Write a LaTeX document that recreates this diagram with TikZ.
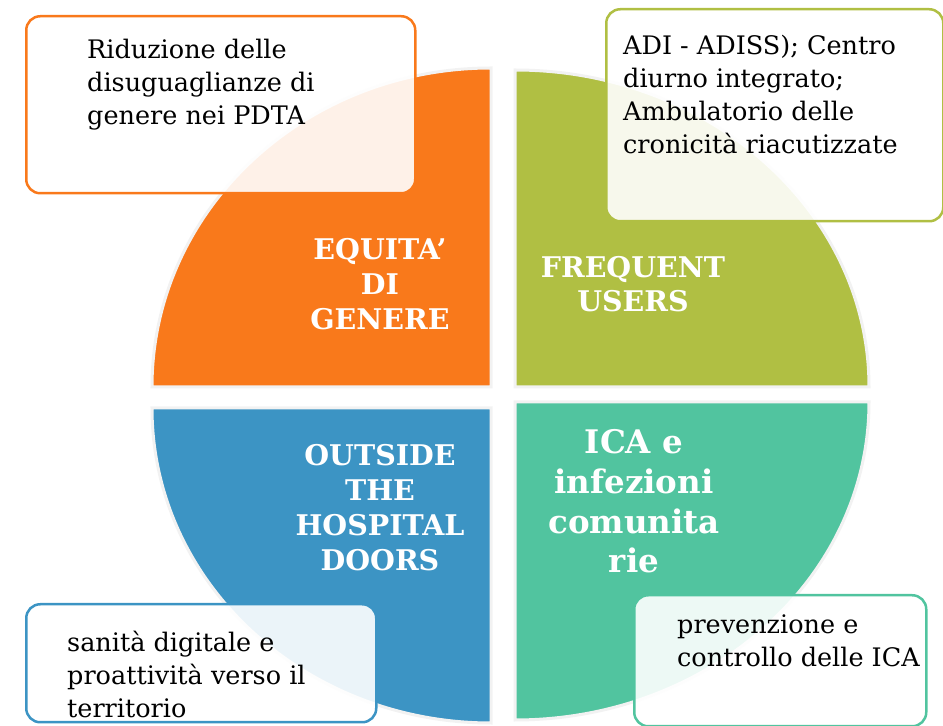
\documentclass[tikz,border=0pt]{standalone}
\usepackage{fontspec}
\setmainfont{DejaVu Serif}
\definecolor{eqorange}{RGB}{249,121,27}
\definecolor{fugreen}{RGB}{176,191,67}
\definecolor{ohblue}{RGB}{60,148,196}
\definecolor{icateal}{RGB}{81,196,159}

\begin{document}
\begin{tikzpicture}[x=1pt,y=1pt,
  quad/.style={draw=black!5,line width=3pt},
  callout/.style={draw=#1,line width=2.5pt,rounded corners=14pt,fill=white,
    fill opacity=.9,inner sep=0pt},
  calltext/.style={anchor=base west,inner sep=0pt,align=left,
    font=\fontsize{25.5}{33}\selectfont},
  title/.style={anchor=base,inner sep=0pt,align=center,text=white,
    font=\fontsize{28.5}{35}\selectfont\bfseries}]
  \useasboundingbox (0,0) rectangle (943,726);
  \clip (0,0) rectangle (943,726);
  % Quadrants of the circle
  \filldraw[quad,fill=eqorange] (491,339) -- (152,339)
    arc[start angle=180,end angle=90,x radius=339,y radius=319] -- cycle;
  \filldraw[quad,fill=fugreen] (515,339) -- (869,339)
    arc[start angle=0,end angle=90,x radius=354,y radius=317] -- cycle;
  \filldraw[quad,fill=ohblue] (491,318) -- (152,318)
    arc[start angle=180,end angle=270,x radius=339,y radius=315] -- cycle;
  \filldraw[quad,fill=icateal] (515,324) -- (869,324)
    arc[start angle=0,end angle=-90,x radius=354,y radius=318] -- cycle;
  % Titles (base = last line)
  \node[title] (eq)  at (380,396) {EQUITA’\\DI\\GENERE};
  \node[title,font=\fontsize{28.5}{34}\selectfont\bfseries] (fu) at (633,414)
    {FREQUENT\\USERS};
  \node[title] (oh)  at (380,155) {OUTSIDE\\THE\\HOSPITAL\\DOORS};
  \node[title,font=\fontsize{32.5}{39.7}\selectfont\bfseries] (ica) at (634,153)
    {ICA e\\infezioni\\comunita\\rie};
  % Callout boxes
  \node[callout=eqorange,anchor=north west,minimum width=389,minimum height=177]
    (eqbox) at (25,711) {};
  \node[calltext] (eqtext) at ([xshift=62,yshift=-110]eqbox.north west)
    {Riduzione delle\\disuguaglianze di\\genere nei PDTA};
  \node[callout=fugreen,anchor=north west,minimum width=337,minimum height=212]
    (fubox) at (605,718) {};
  \node[calltext] (futext) at ([xshift=18,yshift=-146]fubox.north west)
    {ADI - ADISS); Centro\\diurno integrato;\\Ambulatorio delle\\cronicità riacutizzate};
  \node[callout=ohblue,anchor=north west,minimum width=350,minimum height=118]
    (ohbox) at (25,123) {};
  \node[calltext] (ohtext) at ([xshift=42,yshift=-114]ohbox.north west)
    {sanità digitale e\\proattività verso il\\territorio};
  \node[callout=icateal,anchor=north west,minimum width=292,minimum height=131]
    (icabox) at (633,132) {};
  \node[calltext] (icatext) at ([xshift=44,yshift=-73]icabox.north west)
    {prevenzione e\\controllo delle ICA};
\end{tikzpicture}
\end{document}
